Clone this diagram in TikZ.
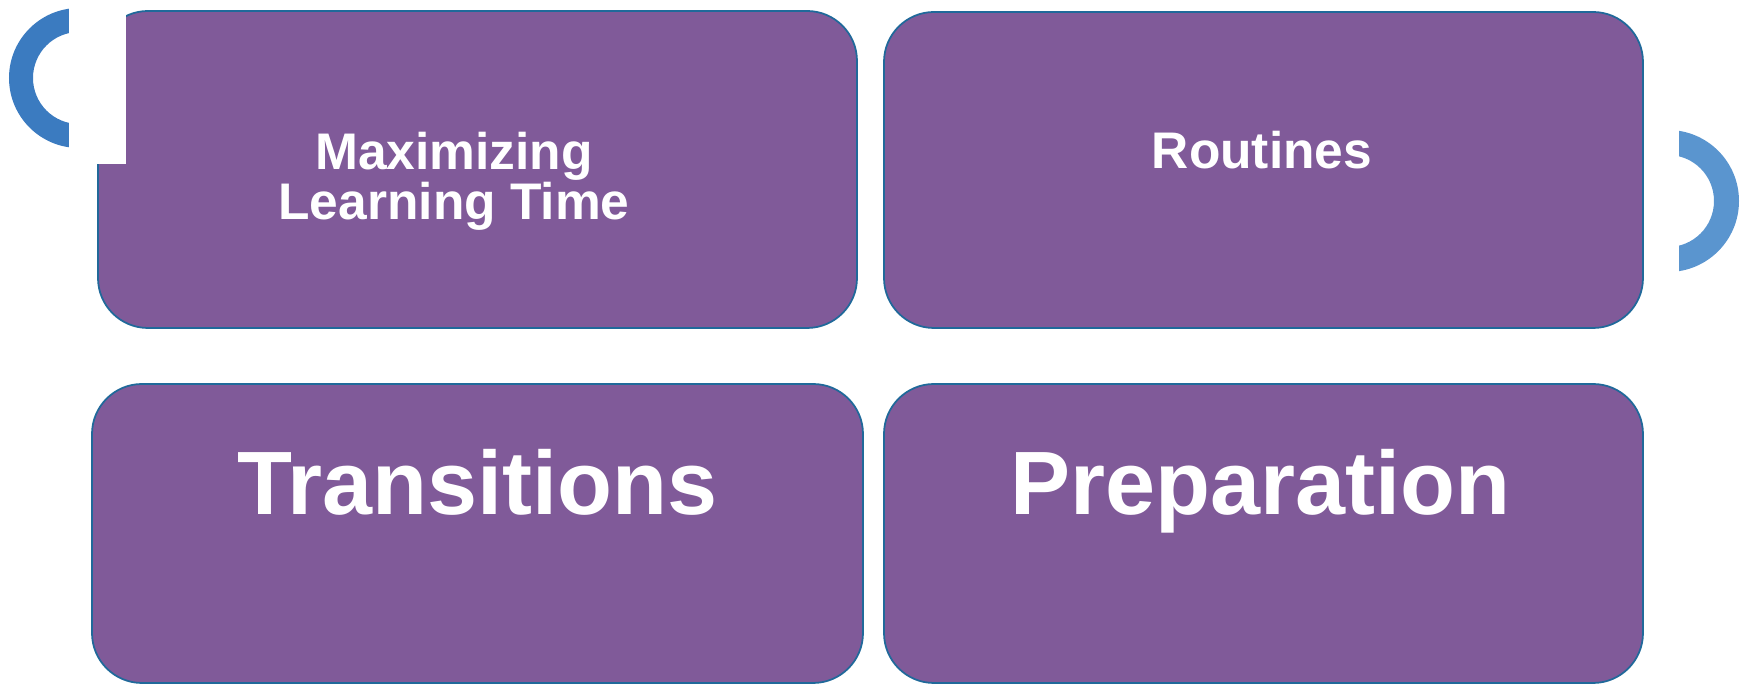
\documentclass[tikz,border=0pt]{standalone}
\usepackage{fontspec}
\setmainfont{Liberation Sans}
\usetikzlibrary{positioning}
\definecolor{tilefill}{HTML}{805A99}
\definecolor{tileedge}{HTML}{20699A}
\definecolor{ringdark}{HTML}{3B7BC0}
\definecolor{ringlight}{HTML}{5A95CF}

\begin{document}
\begin{tikzpicture}[
  tile/.style={rectangle, draw=tileedge, line width=0.5pt, fill=tilefill, rounded corners=0.5cm, inner sep=0pt, minimum width=#1},
  tile/.default=7.59cm,
  small/.style={text=white, inner sep=0pt, align=center, font=\fontsize{14.65pt}{14.2pt}\selectfont\bfseries},
  big/.style={text=white, inner sep=0pt, font=\fontsize{25.6pt}{28pt}\selectfont\bfseries}
]
  \useasboundingbox (0,0) rectangle (17.48,-6.85);

  % the four tiles
  \node[tile, minimum height=3.17cm] (max) at (4.775,-1.695) {};
  \node[tile, minimum height=3.16cm] (rout) at (12.635,-1.70) {};
  \node[tile=7.71cm, minimum height=2.99cm] (trans) at (4.775,-5.335) {};
  \node[tile, minimum height=2.99cm] (prep) at (12.635,-5.335) {};

  % half rings at the sides
  \begin{scope}
    \clip (0,0) rectangle (0.69,-1.64);
    \fill[ringdark, even odd rule] (0.79,-0.78) circle (0.70) (0.79,-0.78) circle (0.46);
  \end{scope}
  \fill[white] (0.69,0) rectangle (1.26,-1.64);
  \begin{scope}
    \clip (16.79,0) rectangle (17.48,-4);
    \fill[ringlight, even odd rule] (16.68,-2.01) circle (0.71) (16.68,-2.01) circle (0.46);
  \end{scope}

  % labels
  \node[small] (maxtxt) at (4.54,-1.81) {Maximizing\\Learning Time};
  \node[small, anchor=base] (routtxt) at (12.62,-1.69) {Routines};
  \node[big, anchor=base] (transtxt) at (4.775,-5.15) {Transitions};
  \node[big, anchor=base] (preptxt) at (12.60,-5.15) {Preparation};
\end{tikzpicture}
\end{document}
